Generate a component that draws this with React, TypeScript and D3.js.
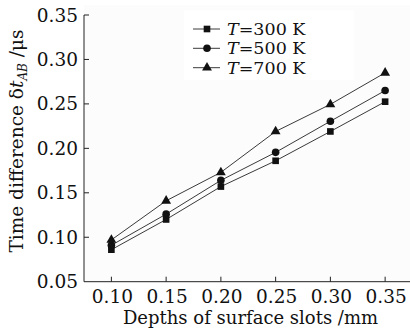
import React from "react";
import * as d3 from "d3";

const depths = [0.1, 0.15, 0.2, 0.25, 0.3, 0.35];
const t300 = [0.086, 0.12, 0.157, 0.186, 0.219, 0.2525];
const t500 = [0.091, 0.126, 0.164, 0.1955, 0.2305, 0.265];
const t700 = [0.097, 0.141, 0.173, 0.219, 0.2495, 0.285];
const seriesLabels = ["300", "500", "700"];
const markerKinds = ["square", "circle", "triangle"];
const xTicks = [0.1, 0.15, 0.2, 0.25, 0.3, 0.35];
const yTicks = [0.05, 0.1, 0.15, 0.2, 0.25, 0.3, 0.35];

const W = 410;
const H = 332;
const FONT = "'DejaVu Serif', serif";

function Marker({ kind, x, y }: { kind: string; x: number; y: number }) {
  if (kind === "square") {
    const s = d3.symbol(d3.symbolSquare, 44)();
    return <path d={s || ""} transform={`translate(${x},${y})`} fill="#111" />;
  }
  if (kind === "circle") {
    return <circle cx={x} cy={y} r={3.8} fill="#111" />;
  }
  const s = d3.symbol(d3.symbolTriangle, 42)();
  return <path d={s || ""} transform={`translate(${x},${y})`} fill="#111" />;
}

export default function App() {
  const x = d3.scaleLinear().domain([0.075, 0.375]).range([84, 412.5]);
  const y = d3.scaleLinear().domain([0.05, 0.35]).range([281.7, 15]);
  const series = [t300, t500, t700];
  const line = d3
    .line<number>()
    .x((_, i) => x(depths[i]))
    .y((d) => y(d));

  const legendY = [29, 48.3, 67.7];

  return (
    <svg
      width={W}
      height={H}
      style={{ position: "absolute", left: 0, top: 0, background: "#fff" }}
      fontFamily={FONT}
    >
      <rect x={84} y={5} width={W - 84} height={281.7 - 5} fill="#fcfcfc" />
      <rect x={184} y={10} width={170} height={70} fill="#ffffff" />

      {/* axes */}
      <line x1={84} x2={84} y1={y(0.35)} y2={y(0.05)} stroke="#222" strokeWidth={1} />
      <line x1={84} x2={W} y1={y(0.05)} y2={y(0.05)} stroke="#222" strokeWidth={1} />

      {yTicks.map((t) => (
        <g key={"y" + t}>
          {t > 0.05 && (
            <line x1={84} x2={89} y1={y(t)} y2={y(t)} stroke="#222" strokeWidth={1} />
          )}
          <text
            x={78}
            y={y(t)}
            textAnchor="end"
            dominantBaseline="central"
            fontSize={18.5}
            fill="#111"
          >
            {t.toFixed(2)}
          </text>
        </g>
      ))}

      {xTicks.map((t) => (
        <g key={"x" + t}>
          <line x1={x(t)} x2={x(t)} y1={y(0.05)} y2={y(0.05) - 5} stroke="#222" strokeWidth={1} />
          <text x={x(t) + 1} y={303} textAnchor="middle" fontSize={18.5} fill="#111">
            {t.toFixed(2)}
          </text>
        </g>
      ))}

      <text x={250.5} y={324} textAnchor="middle" fontSize={18} fill="#111">
        Depths of surface slots /mm
      </text>

      <text
        transform={`translate(23,141) rotate(-90)`}
        textAnchor="middle"
        fontSize={18.5}
        fill="#111"
      >
        Time difference δ
        <tspan fontStyle="italic">t</tspan>
        <tspan fontStyle="italic" fontSize={12} dy={4}>
          AB
        </tspan>
        <tspan dy={-4}> /μs</tspan>
      </text>

      {/* series */}
      {series.map((s, si) => (
        <g key={"s" + si}>
          <path d={line(s) || ""} fill="none" stroke="#3a3a3a" strokeWidth={1} />
          {s.map((v, i) => (
            <Marker key={i} kind={markerKinds[si]} x={x(depths[i])} y={y(v)} />
          ))}
        </g>
      ))}

      {/* legend */}
      {seriesLabels.map((lab, i) => (
        <g key={"l" + i}>
          <line x1={193} x2={220} y1={legendY[i]} y2={legendY[i]} stroke="#3a3a3a" strokeWidth={1} />
          <Marker kind={markerKinds[i]} x={207} y={legendY[i]} />
          <text x={227} y={legendY[i]} dominantBaseline="central" fontSize={17.5} fill="#111">
            <tspan fontStyle="italic">T</tspan>={lab} K
          </text>
        </g>
      ))}
    </svg>
  );
}
